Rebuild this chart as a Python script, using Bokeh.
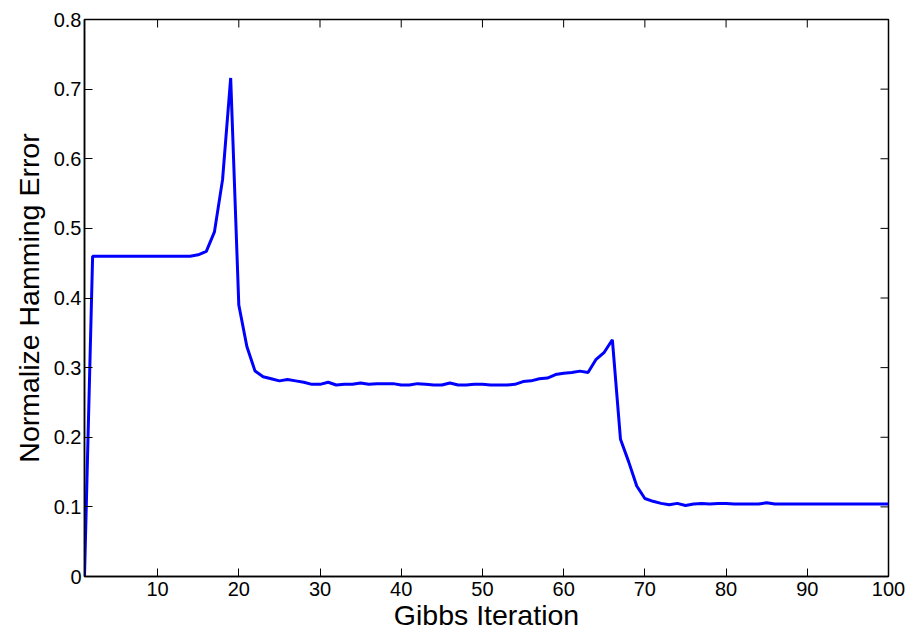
import math
from bokeh.plotting import figure
from bokeh.models import Range1d, FixedTicker
from bokeh.embed import file_html
from bokeh.resources import INLINE

iterations = list(range(1, 101))
errors = [
    0.000, 0.460, 0.460, 0.460, 0.460, 0.460, 0.460, 0.460, 0.460, 0.460,
    0.460, 0.460, 0.460, 0.460, 0.462, 0.467, 0.495, 0.570, 0.716, 0.390,
    0.330, 0.295, 0.287, 0.284, 0.281, 0.283, 0.281, 0.279, 0.276, 0.276,
    0.279, 0.275, 0.276, 0.276, 0.278, 0.276, 0.277, 0.277, 0.277, 0.275,
    0.275, 0.277, 0.276, 0.275, 0.275, 0.278, 0.275, 0.275, 0.276, 0.276,
    0.275, 0.275, 0.275, 0.276, 0.280, 0.281, 0.284, 0.285, 0.290, 0.292,
    0.293, 0.295, 0.293, 0.312, 0.322, 0.340, 0.197, 0.165, 0.130, 0.112,
    0.108, 0.105, 0.103, 0.105, 0.102, 0.104, 0.105, 0.104, 0.105, 0.105,
    0.104, 0.104, 0.104, 0.104, 0.106, 0.104, 0.104, 0.104, 0.104, 0.104,
    0.104, 0.104, 0.104, 0.104, 0.104, 0.104, 0.104, 0.104, 0.104, 0.104,
]
x_ticks = [10, 20, 30, 40, 50, 60, 70, 80, 90, 100]
y_ticks = [0, 0.1, 0.2, 0.3, 0.4, 0.5, 0.6, 0.7, 0.8]
y_tick_labels = ["0", "0.1", "0.2", "0.3", "0.4", "0.5", "0.6", "0.7", "0.8"]
x_label = "Gibbs Iteration"
y_label = "Normalize Hamming Error"
x_min, x_max = 1, 100
y_min, y_max = 0, 0.8

FONT = "Liberation Sans"

p = figure(width=922, height=633, output_backend="svg", toolbar_location=None,
           x_range=Range1d(x_min, x_max), y_range=Range1d(y_min, y_max),
           min_border_left=84, min_border_right=34, min_border_top=19,
           min_border_bottom=55, background_fill_color="white",
           border_fill_color="white")
p.grid.visible = False
p.outline_line_color = "black"
p.outline_line_width = 1.5

p.line(iterations, errors, line_color="#0000FF", line_width=3)

# inward ticks on the top and right edges of the box (MATLAB "box on")
p.ray(x=x_ticks, y=[y_max] * len(x_ticks), length=8, length_units="screen",
      angle=-math.pi / 2, line_color="black", line_width=1)
p.ray(x=[x_max] * len(y_ticks), y=y_ticks, length=8, length_units="screen",
      angle=math.pi, line_color="black", line_width=1)

def style(ax):
    ax.major_tick_in = 8
    ax.major_tick_out = 0
    ax.minor_tick_in = 0
    ax.minor_tick_out = 0
    ax.axis_line_color = "black"
    ax.axis_line_width = 1.5
    ax.major_tick_line_color = "black"
    ax.major_tick_line_width = 1
    ax.major_label_text_font = FONT
    ax.major_label_text_font_size = "20px"
    ax.major_label_text_color = "black"
    ax.axis_label_text_font = FONT
    ax.axis_label_text_font_size = "28.5px"
    ax.axis_label_text_font_style = "normal"
    ax.axis_label_text_color = "black"

xa = p.xaxis[0]
xa.ticker = FixedTicker(ticks=x_ticks)
style(xa)
xa.major_label_standoff = 5
xa.axis_label = x_label
xa.axis_label_standoff = 0

ya = p.yaxis[0]
ya.ticker = FixedTicker(ticks=y_ticks)
ya.major_label_overrides = {t: l for t, l in zip(y_ticks, y_tick_labels)}
style(ya)
ya.major_label_standoff = 3
ya.axis_label = y_label
ya.axis_label_standoff = 6

open("out.html", "w").write(file_html(p, INLINE))
